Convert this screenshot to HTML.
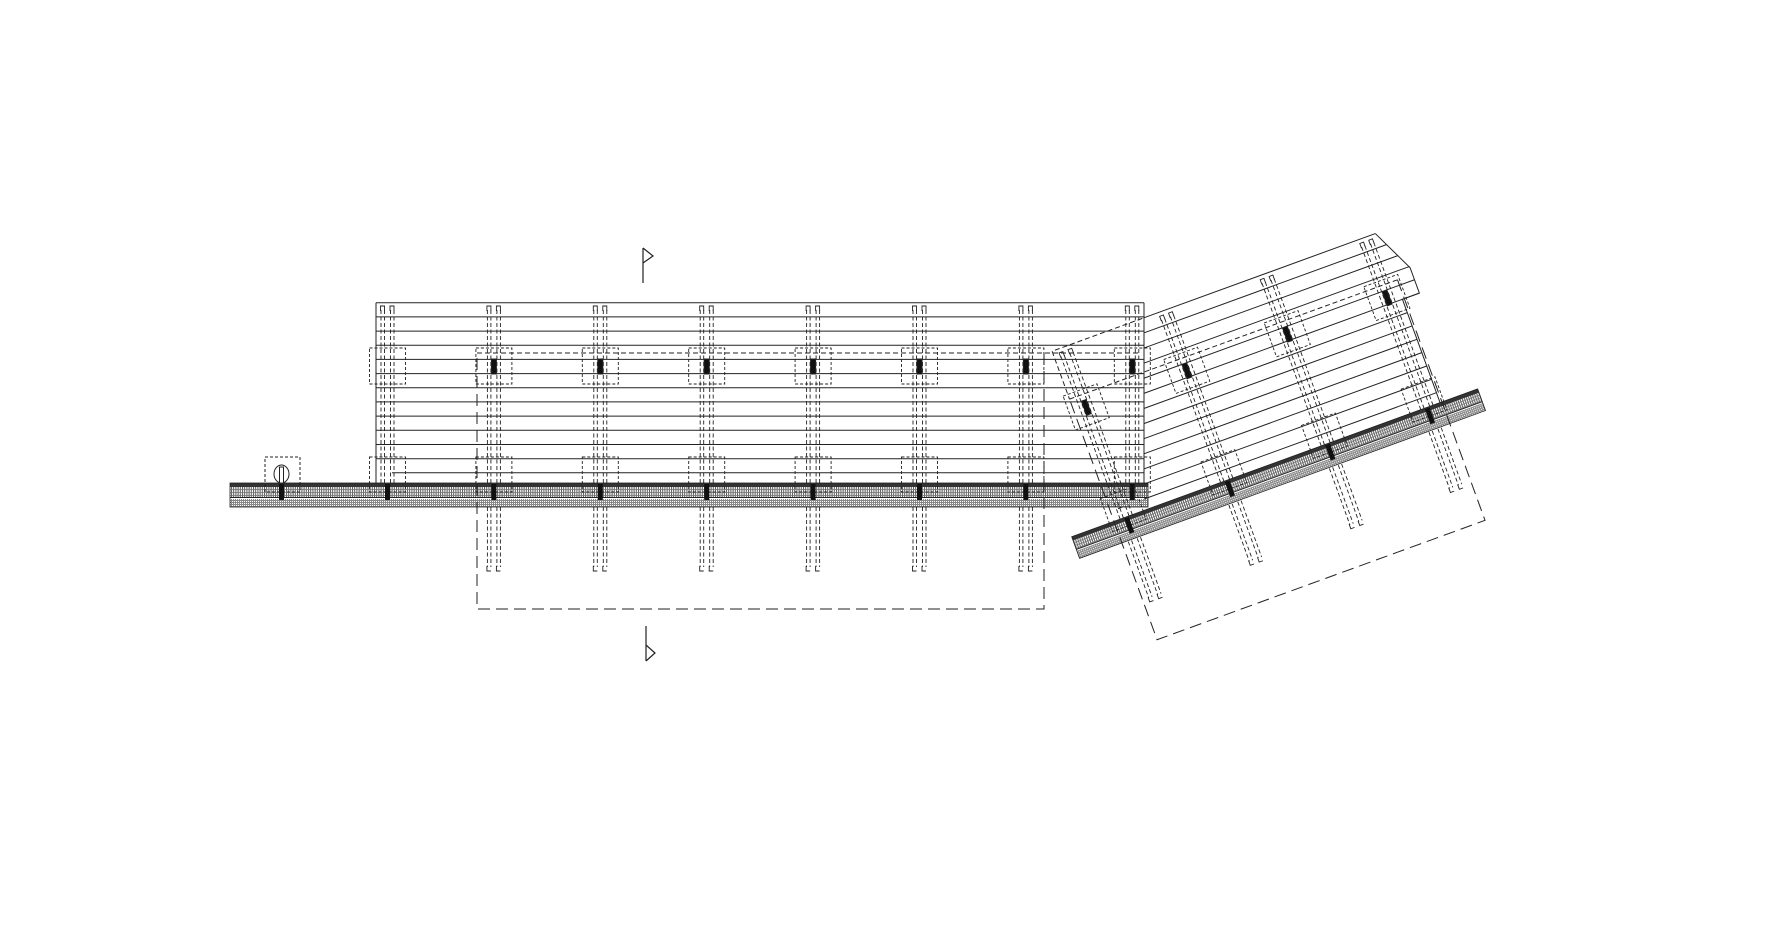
<!DOCTYPE html>
<html><head><meta charset="utf-8"><style>html,body{margin:0;padding:0;background:#fff}svg{display:block}</style></head>
<body>
<svg width="1771" height="926" viewBox="0 0 1771 926" xmlns="http://www.w3.org/2000/svg">
<defs>
<pattern id="hatch" width="2.2" height="3" patternUnits="userSpaceOnUse"><rect width="2.2" height="3" fill="#fff"/><rect width="1" height="3" fill="#555"/><rect width="2.2" height="0.8" fill="#777"/></pattern>
<pattern id="hatch2" width="2" height="2" patternUnits="userSpaceOnUse"><rect width="2" height="2" fill="#888"/><rect width="1" height="1" fill="#fff"/></pattern>
<g id="cTop" fill="none" stroke="#222" stroke-width="0.9">
  <g stroke-dasharray="4 2.5"><line x1="-6.5" y1="-173" x2="-6.5" y2="0"/><line x1="-3" y1="-173" x2="-3" y2="0"/><line x1="3" y1="-173" x2="3" y2="0"/><line x1="6.5" y1="-173" x2="6.5" y2="0"/></g>
  <path d="M-7,-172V-177H-3V-172M2.5,-172V-177H6.5V-172"/>
  <rect x="-18" y="-135" width="36" height="36" stroke-dasharray="3 2"/>
  <rect x="-18" y="-26" width="36" height="35" stroke-dasharray="3 2"/>
  <rect x="-2.5" y="1" width="5" height="16" fill="#111" stroke="none"/>
</g>
<g id="cBelow" fill="none" stroke="#222" stroke-width="0.9">
  <g stroke-dasharray="4 2.5"><line x1="-6.5" y1="24" x2="-6.5" y2="84"/><line x1="-3" y1="24" x2="-3" y2="84"/><line x1="3" y1="24" x2="3" y2="84"/><line x1="6.5" y1="24" x2="6.5" y2="84"/></g>
  <path d="M-7,83V88H-3M2.5,83V88H6.5"/>
</g>
<rect id="ubar" x="-2.5" y="-124" width="5" height="15" fill="#111"/>
<clipPath id="cl"><path d="M1144,0H1771V926H1118V507H1144Z"/></clipPath>
</defs>

<g stroke="#222" stroke-width="1.2" fill="none">
<line x1="643" y1="248" x2="643" y2="283"/><path d="M643,248L653,256L643,263"/>
<line x1="646" y1="626" x2="646" y2="661"/><path d="M646,645L655,653L646,661"/>
</g>

<g transform="translate(0,483)" stroke="#222" fill="none" stroke-width="1">
  <line x1="376" y1="-180.3" x2="1144" y2="-180.3"/>
  <line x1="376" y1="-166.1" x2="1144" y2="-166.1"/>
  <line x1="376" y1="-151.9" x2="1144" y2="-151.9"/>
  <line x1="376" y1="-137.8" x2="1144" y2="-137.8"/>
  <line x1="376" y1="-123.6" x2="1144" y2="-123.6"/>
  <line x1="376" y1="-109.4" x2="1144" y2="-109.4"/>
  <line x1="376" y1="-95.2" x2="1144" y2="-95.2"/>
  <line x1="376" y1="-81.1" x2="1144" y2="-81.1"/>
  <line x1="376" y1="-66.9" x2="1144" y2="-66.9"/>
  <line x1="376" y1="-52.7" x2="1144" y2="-52.7"/>
  <line x1="376" y1="-38.5" x2="1144" y2="-38.5"/>
  <line x1="376" y1="-24.3" x2="1144" y2="-24.3"/>
  <line x1="392" y1="-10.2" x2="1144" y2="-10.2"/>
  <line x1="376" y1="-180.3" x2="376" y2="0"/>
  <line x1="1144" y1="-180.3" x2="1144" y2="0"/>
  <rect x="230" y="0" width="918" height="4" fill="#333" stroke="none"/>
  <rect x="230" y="4" width="918" height="10" fill="url(#hatch)" stroke="none"/>
  <rect x="230" y="16" width="918" height="8" fill="url(#hatch2)" stroke="none"/>
  <line x1="230" y1="14.5" x2="1148" y2="14.5"/>
  <rect x="230" y="0" width="918" height="24" stroke-width="0.8"/>
  <path d="M477,-130H1140" stroke-dasharray="5 3"/>
  <path d="M1044,-130V126H477V-130" stroke-dasharray="12 6"/>
  <rect x="265" y="-26" width="35" height="35" stroke-dasharray="3 2"/>
  <ellipse cx="281.5" cy="-9" rx="7.5" ry="9" fill="#fff"/>
  <rect x="279.5" y="-16" width="4" height="16" fill="#fff"/>
  <rect x="279" y="1" width="5" height="16" fill="#111" stroke="none"/>
  <use href="#cTop" x="387.5"/>
  <use href="#cTop" x="493.9"/><use href="#cBelow" x="493.9"/><use href="#ubar" x="493.9"/>
  <use href="#cTop" x="600.3"/><use href="#cBelow" x="600.3"/><use href="#ubar" x="600.3"/>
  <use href="#cTop" x="706.7"/><use href="#cBelow" x="706.7"/><use href="#ubar" x="706.7"/>
  <use href="#cTop" x="813.1"/><use href="#cBelow" x="813.1"/><use href="#ubar" x="813.1"/>
  <use href="#cTop" x="919.5"/><use href="#cBelow" x="919.5"/><use href="#ubar" x="919.5"/>
  <use href="#cTop" x="1025.9"/><use href="#cBelow" x="1025.9"/><use href="#ubar" x="1025.9"/>
  <use href="#cTop" x="1132.3"/><use href="#ubar" x="1132.3"/>
</g>

<g clip-path="url(#cl)">
<g transform="translate(1071.7,536.7) rotate(-20)" stroke="#222" fill="none" stroke-width="1">
  <line x1="141" y1="-181" x2="389" y2="-181"/>
  <line x1="0" y1="-166.8" x2="396" y2="-166.8"/>
  <line x1="0" y1="-152.6" x2="403" y2="-152.6"/>
  <line x1="0" y1="-138.4" x2="410" y2="-138.4"/>
  <line x1="0" y1="-124.2" x2="410" y2="-124.2"/>
  <line x1="0" y1="-110" x2="410" y2="-110"/>
  <line x1="0" y1="-95.8" x2="392" y2="-95.8"/>
  <line x1="0" y1="-81.6" x2="392" y2="-81.6"/>
  <line x1="0" y1="-67.4" x2="392" y2="-67.4"/>
  <line x1="0" y1="-53.2" x2="392" y2="-53.2"/>
  <line x1="0" y1="-39" x2="392" y2="-39"/>
  <line x1="0" y1="-24.8" x2="392" y2="-24.8"/>
  <line x1="0" y1="-10.6" x2="392" y2="-10.6"/>
</g>
</g>

<g transform="translate(1071.7,536.7) rotate(-20)" stroke="#222" fill="none" stroke-width="1">
  <path d="M389,-181L410,-137L410,-110L392,-110L392,0"/>
  <rect x="0" y="0" width="432" height="4" fill="#333" stroke="none"/>
  <rect x="0" y="4" width="432" height="9" fill="url(#hatch)" stroke="none"/>
  <rect x="0" y="15" width="432" height="8" fill="url(#hatch2)" stroke="none"/>
  <line x1="0" y1="13.5" x2="432" y2="13.5"/>
  <rect x="0" y="0" width="432" height="23" stroke-width="0.8"/>
  <path d="M48,-181H141" stroke-dasharray="5 3"/>
  <path d="M45,-181V-130" stroke-dasharray="5 3"/>
  <path d="M45,-130H394" stroke-dasharray="5 3"/>
  <path d="M394,-130V126H45V-130" stroke-dasharray="12 6"/>
  <use href="#cTop" x="58"/><use href="#cBelow" x="58"/><use href="#ubar" x="58"/>
  <use href="#cTop" x="165"/><use href="#cBelow" x="165"/><use href="#ubar" x="165"/>
  <use href="#cTop" x="272"/><use href="#cBelow" x="272"/><use href="#ubar" x="272"/>
  <use href="#cTop" x="378"/><use href="#cBelow" x="378"/><use href="#ubar" x="378"/>
</g>
</svg>
</body></html>
